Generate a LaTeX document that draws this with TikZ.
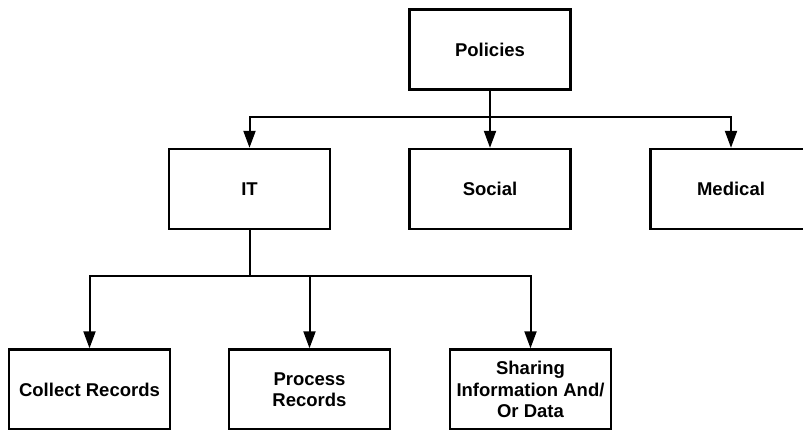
\documentclass[tikz,border=0pt]{standalone}
\usepackage{fontspec}
\setmainfont{Liberation Sans}
\usetikzlibrary{arrows.meta}
\begin{document}
\begin{tikzpicture}[x=1pt,y=-1pt,
  box/.style={draw,line width=2.4pt,minimum width=161pt,minimum height=80pt,
    inner sep=2pt,align=center,font=\fontsize{18.5}{21.5}\selectfont\bfseries},
  link/.style={line width=2pt},
  arrow/.style={line width=2pt,-{Triangle[length=17pt,width=12pt]}}]
\useasboundingbox (0,0) rectangle (803,430);
\clip (0,0) rectangle (803,430);
% top level
\node[box] (pol) at (490,49.5) {Policies};
% second level
\node[box] (it)  at (249.5,189) {IT};
\node[box] (soc) at (490,189) {Social};
\node[box] (med) at (731,189) {Medical};
% third level
\node[box] (col) at (89.5,389.5) {Collect Records};
\node[box] (pro) at (309.5,389.5) {Process\\Records};
\node[box] (sha) at (530.5,389.5) {Sharing\\Information And/\\Or Data};
% connectors from Policies
\coordinate (bus1) at (490,117);
\draw[link] (pol.south) -- (bus1);
\draw[arrow] (bus1) -| (it.north);
\draw[arrow] (bus1) -- (soc.north);
\draw[arrow] (bus1) -| (med.north);
% connectors from IT
\coordinate (bus2) at (249.5,276);
\draw[link] (it.south) -- (bus2);
\draw[arrow] (bus2) -| (col.north);
\draw[arrow] (bus2) -| (pro.north);
\draw[arrow] (bus2) -| (sha.north);
\end{tikzpicture}
\end{document}
